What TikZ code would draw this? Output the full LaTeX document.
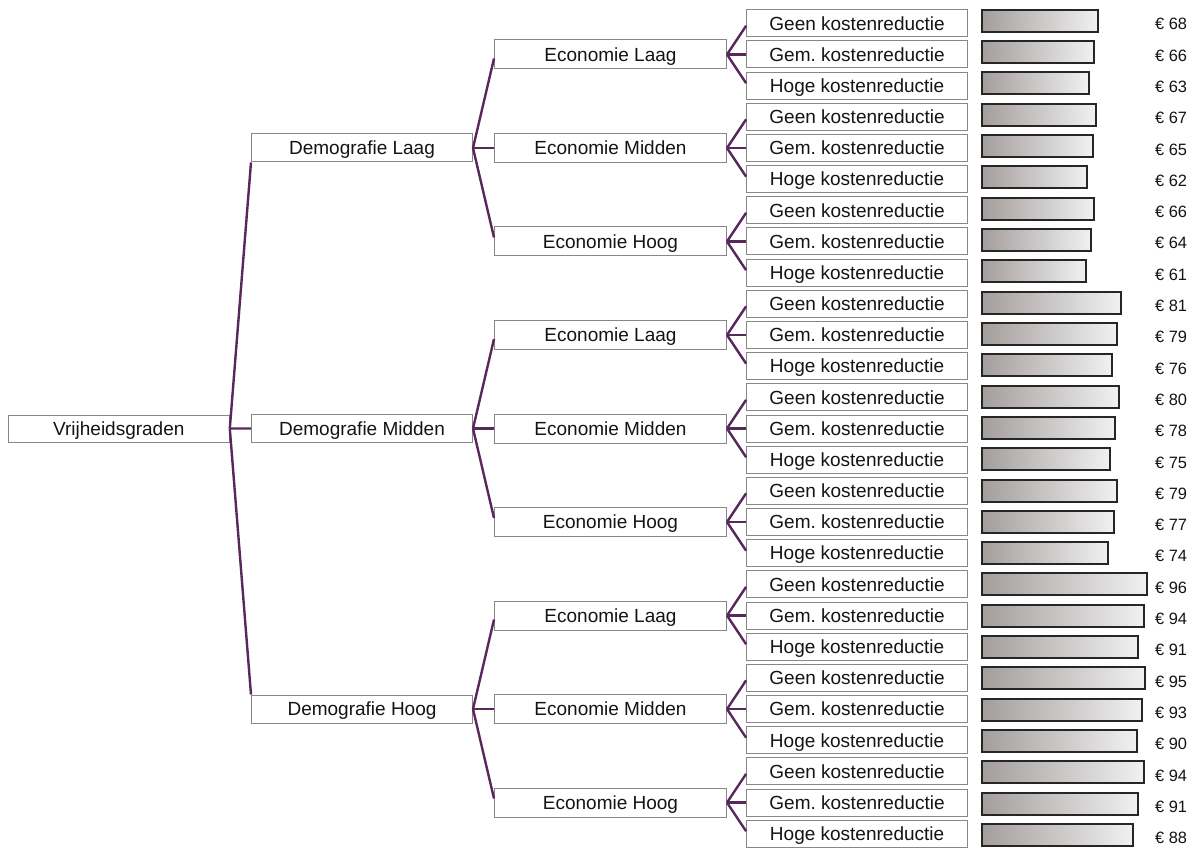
\documentclass[tikz,border=0pt]{standalone}
\usepackage{fontspec}
\setmainfont{Liberation Sans}
\definecolor{connc}{RGB}{88,40,92}
\definecolor{boxline}{RGB}{135,135,135}
\definecolor{txtc}{RGB}{20,20,20}
\definecolor{barL}{RGB}{163,158,156}
\definecolor{barR}{RGB}{241,241,241}
\begin{document}
\begin{tikzpicture}[x=1pt,y=-1pt,
  box/.style={draw=boxline, line width=1pt, fill=white, inner sep=0pt,
    minimum height=27pt, minimum width=221pt, text height=13.6pt, text depth=0pt,
    font=\fontsize{19}{21}\selectfont, text=txtc},
  ebox/.style={box, minimum width=232pt, minimum height=29pt},
  dbox/.style={box, minimum height=28pt},
  link/.style={draw=connc, line width=2.4pt},
  bar/.style={draw=black!85, line width=2pt, left color=barL, right color=barR,
    minimum height=22pt, inner sep=0pt, anchor=west},
  val/.style={anchor=west, font=\fontsize{16.4}{18}\selectfont, text=txtc,
    inner sep=0pt, text height=11.7pt, text depth=0pt}]
\useasboundingbox[fill=white] (0,0) rectangle (1200,848);

% leaves, bars and values
\foreach \v [count=\n from 0] in {68,66,63,67,65,62,66,64,61,81,79,76,80,78,75,79,77,74,96,94,91,95,93,90,94,91,88}{
  \pgfmathsetmacro\yy{23.3+31.17*\n}
  \pgfmathtruncatemacro\t{mod(\n,3)}
  \node[box] (leaf\n) at (857.1,\yy) {\ifcase\t Geen\or Gem.\or Hoge\fi\ kostenreductie};
  \pgfmathsetmacro\by{20.7+31.32*\n}
  \pgfmathsetmacro\bw{1.76*\v-3.3}
  \node[bar, minimum width=\bw pt] (bar\n) at (980.5,\by) {};
  \pgfmathsetmacro\ly{24+31.3*\n}
  \node[val] (val\n) at (1155,\ly) {€ \v};
}

% economie level
\foreach \j in {0,...,8}{
  \pgfmathtruncatemacro\r{3*\j+1}
  \pgfmathsetmacro\yy{23.3+31.17*\r}
  \pgfmathtruncatemacro\t{mod(\j,3)}
  \node[ebox] (e\j) at (610.5,\yy) {Economie \ifcase\t Laag\or Midden\or Hoog\fi};
  \pgfmathtruncatemacro\a{3*\j}
  \pgfmathtruncatemacro\b{3*\j+1}
  \pgfmathtruncatemacro\c{3*\j+2}
  \draw[link] (e\j.east) -- ([yshift=-2.5pt]leaf\a.west);
  \draw[link] (e\j.east) -- (leaf\b.west);
  \draw[link] (e\j.east) -- ([yshift=2.5pt]leaf\c.west);
}

% demografie level
\foreach \k in {0,1,2}{
  \pgfmathtruncatemacro\r{9*\k+4}
  \pgfmathsetmacro\yy{23.3+31.17*\r}
  \node[dbox] (d\k) at (362,\yy) {Demografie \ifcase\k Laag\or Midden\or Hoog\fi};
  \pgfmathtruncatemacro\a{3*\k}
  \pgfmathtruncatemacro\b{3*\k+1}
  \pgfmathtruncatemacro\c{3*\k+2}
  \draw[link] (d\k.east) -- ([yshift=-4pt]e\a.west);
  \draw[link] (d\k.east) -- (e\b.west);
  \draw[link] (d\k.east) -- ([yshift=4pt]e\c.west);
}

% root
\node[box] (root) at (118.8,428.5) {Vrijheidsgraden};
\draw[link] (root.east) -- (d0.south west);
\draw[link] (root.east) -- (d1.west);
\draw[link] (root.east) -- (d2.north west);
\end{tikzpicture}
\end{document}
